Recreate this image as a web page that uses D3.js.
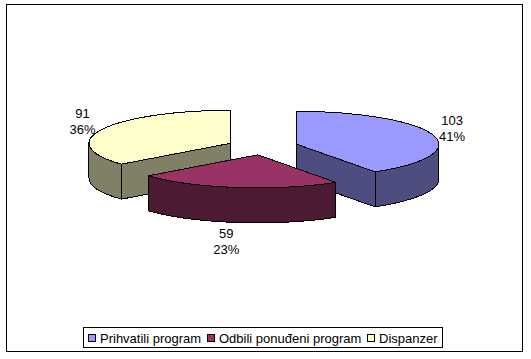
<html lang="en">
<head>
  <meta charset="UTF-8"/>
  <script src="https://d3js.org/d3.v7.min.js"></script>
  <style>
body {
  margin: 0;
  background-color: #fff;
}
svg {
  display: block;
}
text {
  font-family: 'Liberation Sans', Arial, sans-serif;
  font-size: 13px;
  fill: #000;
}
.face, .wall {
  stroke: #000;
  stroke-width: 1;
  stroke-linejoin: round;
  vector-effect: non-scaling-stroke;
  shape-rendering: crispEdges;
}
  </style>
</head>
<body>
<svg width="531" height="359"></svg>
<script>

const categories = ['Prihvatili program', 'Odbili ponuđeni program', 'Dispanzer'];
const values = [103, 59, 91];
const percents = ['41%', '23%', '36%'];
const topColors = ['#9999FF', '#993366', '#FFFFCC'];
const sideColors = ['#4D4D80', '#4D1A33', '#808066'];

const svg = d3.select('svg');

// chart frame
svg.append('rect')
  .attr('x', 6.5).attr('y', 4.5)
  .attr('width', 516).attr('height', 347)
  .attr('fill', '#fff')
  .attr('stroke', '#000')
  .attr('stroke-width', 1);

// pie geometry: tilted ellipse, exploded slices
const cx = 263, cy = 146.7;
const rx = 142, ry = 33, depth = 35, explode = 35.4;
const labelR = 162;
const labelNudge = [[0, -4], [-7.5, -3.5], [-2, -3]];

const slices = d3.pie().sort(null)(values).map((d, i) => {
  const mid = (d.startAngle + d.endAngle) / 2;
  return {
    ...d,
    i: i,
    mid: mid,
    x: cx + explode * Math.sin(mid),
    y: cy - explode * Math.cos(mid) * ry / rx
  };
});

const rim = (s, a) => [s.x + rx * Math.sin(a), s.y - ry * Math.cos(a)];

// outer wall: only the part of the rim on the front half of the ellipse
function outerWall(s) {
  const a0 = Math.max(s.startAngle, Math.PI / 2);
  const a1 = Math.min(s.endAngle, Math.PI * 1.5);
  if (a0 >= a1) return null;
  const p0 = rim(s, a0), p1 = rim(s, a1);
  return `M${p0}A${rx},${ry} 0 0 1 ${p1}L${p1[0]},${p1[1] + depth}`
    + `A${rx},${ry} 0 0 0 ${p0[0]},${p0[1] + depth}Z`;
}

// flat cut face from the slice centre to the rim at angle a
function cutFace(s, a) {
  const p = rim(s, a);
  return `M${s.x},${s.y}L${p}L${p[0]},${p[1] + depth}L${s.x},${s.y + depth}Z`;
}

const arc = d3.arc().innerRadius(0).outerRadius(rx);

// back to front: yellow, blue, then the maroon slice
[slices[2], slices[0], slices[1]].forEach(s => {
  const g = svg.append('g');

  // cut faces that look towards the viewer
  if (s.i === 0) {
    g.append('path').attr('class', 'wall').attr('d', cutFace(s, s.endAngle)).attr('fill', sideColors[s.i]);
  }
  if (s.i === 2) {
    g.append('path').attr('class', 'wall').attr('d', cutFace(s, s.startAngle)).attr('fill', sideColors[s.i]);
  }

  g.append('path').attr('class', 'wall').attr('d', outerWall(s)).attr('fill', sideColors[s.i]);

  g.append('path')
    .attr('class', 'face')
    .attr('d', arc(s))
    .attr('transform', `translate(${s.x},${s.y}) scale(1,${ry / rx})`)
    .attr('fill', topColors[s.i]);
});

// data labels
slices.forEach(s => {
  const front = s.i === 1;
  const lx = s.x + labelR * Math.sin(s.mid) + labelNudge[s.i][0];
  const ly = s.y - (ry + 19) * Math.cos(s.mid) + (front ? depth : 0) + labelNudge[s.i][1];
  const t = svg.append('text').attr('text-anchor', 'middle');
  t.append('tspan').attr('x', lx).attr('y', ly).text(values[s.i]);
  t.append('tspan').attr('x', lx).attr('y', ly + 16).text(percents[s.i]);
});

// legend
svg.append('rect')
  .attr('x', 83.5).attr('y', 327.5)
  .attr('width', 359).attr('height', 20)
  .attr('fill', '#fff')
  .attr('stroke', '#000');

const legendX = d3.scaleOrdinal().domain(categories).range([88.5, 207.5, 367.5]);

const legend = svg.selectAll('.legend')
  .data(categories)
  .enter()
  .append('g')
  .attr('class', 'legend')
  .attr('transform', d => `translate(${legendX(d)},334.5)`);

legend.append('rect')
  .attr('width', 7).attr('height', 7)
  .attr('fill', (d, i) => topColors[i])
  .attr('stroke', '#000');

legend.append('text')
  .attr('x', 11.5)
  .attr('y', 8)
  .text(d => d);

</script>
</body>
</html>
